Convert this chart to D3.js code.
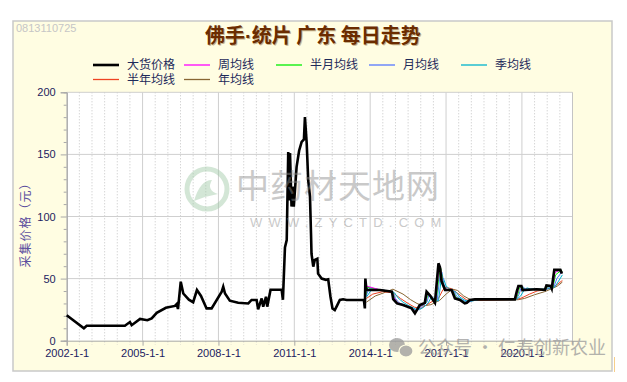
<!DOCTYPE html>
<html><head><meta charset="utf-8">
<script src="https://cdn.jsdelivr.net/npm/d3@7/dist/d3.min.js"></script>
<style>body{margin:0;background:#fff}svg{display:block}</style>
</head><body><svg id="c" width="627" height="382"></svg>
<script>
// ---------- data ----------
const titleParts = ["佛手", "·", "统片 广东 每日走势"];
const yTitle = "采集价格（元）";
const xTickYears = [2002, 2005, 2008, 2011, 2014, 2017, 2020];
const xTickLabels = ["2002-1-1", "2005-1-1", "2008-1-1", "2011-1-1", "2014-1-1", "2017-1-1", "2020-1-1"];
const yTicks = [0, 50, 100, 150, 200];
const legendNames = ["大货价格", "周均线", "半月均线", "月均线", "季均线", "半年均线", "年均线"];
const legendColors = ["#000000", "#ff00ff", "#00ee00", "#5577ff", "#00b4cc", "#ee4422", "#886633"];

// [decimal year, price]
const price = [[2002.00,20.5],[2002.68,10],[2002.79,12],[2004.30,12],[2004.50,15],[2004.57,12.5],[2004.90,17.5],
[2005.19,16.5],[2005.36,18],[2005.56,22.5],[2005.92,26.5],[2006.28,28],[2006.35,29.5],[2006.40,25.5],[2006.51,47.5],
[2006.61,38],[2006.83,33],[2007.00,31],[2007.15,40.8],[2007.31,36],[2007.53,26],[2007.73,26],[2008.13,39.5],[2008.19,43.5],
[2008.26,38],[2008.45,32.2],[2008.78,30.6],[2009.18,30],[2009.31,32.8],[2009.51,32.8],[2009.57,25.3],[2009.71,34],
[2009.77,27.4],[2009.88,35.4],[2009.93,27.4],[2010.06,41],[2010.50,41],[2010.55,33],[2010.63,75],[2010.70,81],
[2010.76,152],[2010.80,113],[2010.83,151],[2010.89,108],[2010.93,124],[2010.98,108],[2011.09,140],[2011.19,153],
[2011.29,160],[2011.38,162],[2011.42,180],[2011.49,159],[2011.55,129],[2011.62,116],[2011.66,86.5],[2011.68,70],
[2011.75,59.6],[2011.81,65],[2011.91,66],[2011.94,54],[2012.08,50],[2012.25,49],[2012.34,49.4],[2012.43,35.4],
[2012.51,26],[2012.60,24.7],[2012.70,28.7],[2012.80,32.8],[2012.93,33.3],[2013.07,32.8],[2013.75,32.8],[2013.79,26],
[2013.81,50],[2013.85,41],[2014.38,40.8],[2014.86,39.5],[2014.91,33.5],[2015.06,30],[2015.30,28.7],[2015.64,26],
[2015.77,22],[2015.96,28.7],[2016.16,30.5],[2016.23,39.5],[2016.36,36.5],[2016.56,30.5],[2016.70,62.3],[2016.76,59],
[2016.82,48],[2016.96,40.8],[2017.22,40.8],[2017.35,34],[2017.55,32.8],[2017.74,30],[2017.82,30.5],[2017.94,32.8],
[2018.14,33.3],[2019.72,33.3],[2019.80,40],[2019.86,44],[2019.98,44],[2020.02,40.8],[2020.58,41.4],[2020.91,41],
[2020.97,44.5],[2021.14,44],[2021.18,42],[2021.28,57],[2021.52,57],[2021.58,54]];

const weekMA = [[2013.82,38],[2013.86,44],[2014.38,41],[2014.86,39.6],[2014.93,35],[2015.08,30.5],[2015.32,28.8],
[2015.66,26.2],[2015.79,23],[2015.98,28],[2016.18,30.3],[2016.26,38],[2016.38,36.8],[2016.58,31],[2016.72,58],[2016.78,59],
[2016.85,47],[2016.98,41],[2017.24,40.8],[2017.37,34.5],[2017.57,32.9],[2017.76,30.3],[2017.84,30.4],[2017.96,32.6],
[2018.16,33.2],[2019.74,33.3],[2019.83,39],[2019.89,43.6],[2020.00,43.8],[2020.05,41],[2020.60,41.4],[2020.93,41.1],
[2020.99,44],[2021.16,44],[2021.20,42.3],[2021.31,55],[2021.54,57],[2021.60,54.5]];

const halfMonthMA = [[2013.83,37],[2013.90,43],[2014.40,41],[2014.88,39.5],[2014.96,34],[2015.10,30.2],[2015.34,28.6],
[2015.68,25.6],[2015.82,23.5],[2016.00,28],[2016.20,30.5],[2016.28,37.5],[2016.40,36.5],[2016.60,31.2],[2016.74,55],
[2016.80,58],[2016.88,46],[2017.00,41],[2017.26,40.6],[2017.39,35],[2017.59,33],[2017.78,30.5],[2017.86,30.6],
[2017.98,32.5],[2018.18,33.2],[2019.76,33.3],[2019.85,38],[2019.91,43],[2020.02,43.6],[2020.07,41.2],[2020.62,41.4],
[2020.95,41.2],[2021.01,43.5],[2021.18,43.8],[2021.22,42.5],[2021.33,53],[2021.56,56.8],[2021.60,55]];

const monthMA = [[2013.84,36],[2013.95,42],[2014.42,41],[2014.90,39.2],[2015.00,34],[2015.14,30.5],[2015.38,28.5],
[2015.72,25.5],[2015.86,24],[2016.04,27.5],[2016.24,30.8],[2016.32,36.5],[2016.44,35.5],[2016.64,31.5],[2016.76,52],
[2016.84,55],[2016.92,45],[2017.04,41],[2017.30,40.3],[2017.43,35.5],[2017.63,33],[2017.82,31],[2017.90,31],
[2018.02,32.3],[2018.22,33.2],[2019.78,33.3],[2019.88,37],[2019.96,42],[2020.06,43.3],[2020.12,41.5],[2020.66,41.4],
[2020.98,41.3],[2021.05,43],[2021.22,43.6],[2021.26,43],[2021.38,50],[2021.58,55.5]];

const quarterMA = [[2013.85,35],[2014.05,41],[2014.50,40.8],[2014.95,38.8],[2015.10,34.5],[2015.30,31],[2015.50,28.5],
[2015.80,25.5],[2015.95,25],[2016.12,27],[2016.30,30.5],[2016.40,34.5],[2016.55,34],[2016.70,32],[2016.80,48],
[2016.90,50],[2017.00,44],[2017.15,41.5],[2017.40,39],[2017.55,35],[2017.75,32.5],[2017.95,31.5],[2018.15,32.5],
[2018.35,33.2],[2019.80,33.3],[2019.95,36],[2020.08,40.5],[2020.20,42.5],[2020.35,41.6],[2020.75,41.4],[2021.05,41.8],
[2021.15,42.5],[2021.30,43.2],[2021.45,48],[2021.60,53]];

const halfYearMA = [[2013.85,34],[2014.10,37.5],[2014.50,39.5],[2014.90,38.5],[2015.20,34],[2015.50,30],[2015.75,27],
[2016.00,26],[2016.20,28.5],[2016.45,31.5],[2016.70,34],[2016.85,40],[2016.95,43],[2017.20,42],[2017.40,39],
[2017.60,36],[2017.80,33],[2017.95,32],[2018.20,32.6],[2019.80,33.2],[2020.00,34.5],[2020.30,37.5],[2020.60,40],
[2020.90,41],[2021.10,42.2],[2021.30,43.8],[2021.60,48.5]];

const yearMA = [[2013.85,31],[2014.20,36],[2014.60,39],[2014.90,41.5],[2015.30,37.5],[2015.60,33],[2015.85,30],
[2016.10,28],[2016.40,29],[2016.75,32.5],[2017.00,37.5],[2017.25,41.5],[2017.45,40.5],[2017.70,36],[2017.95,33.2],
[2018.20,32.6],[2019.85,33],[2020.10,34],[2020.50,37],[2020.90,39.5],[2021.20,42],[2021.40,44],[2021.60,47.2]];

// ---------- layout ----------
const svg = d3.select("#c");
const L = 66.7, R = 572.5, T = 92.3, B = 340.7;
const x = d3.scaleLinear().domain([2002, 2022]).range([L, R]);
const y = d3.scaleLinear().domain([0, 200]).range([B, T]);
const font = "'Liberation Sans', Arial, sans-serif";
const cjk = "'Noto Sans CJK SC', sans-serif";
const labelColor = "#1c2160";

// frame
svg.append("rect").attr("x", 13).attr("y", 21).attr("width", 599).attr("height", 350)
  .attr("fill", "#fffde2").attr("stroke", "#c9c9c9").attr("stroke-width", 1.5);
svg.append("line").attr("x1", 614.5).attr("x2", 614.5).attr("y1", 357).attr("y2", 372)
  .attr("stroke", "#f6cf8a").attr("stroke-width", 1);

// plot background
svg.append("rect").attr("x", L).attr("y", T).attr("width", R - L).attr("height", B - T).attr("fill", "#ffffff");

// grid
const halfYears = d3.range(2002.5, 2022, 0.5).filter(v => !xTickYears.includes(v));
svg.append("g").selectAll("line").data(halfYears).join("line")
  .attr("x1", d => x(d)).attr("x2", d => x(d)).attr("y1", T).attr("y2", B + 4)
  .attr("stroke", "#c4c4c4").attr("stroke-width", 1).attr("stroke-dasharray", "1,2");
svg.append("g").selectAll("line").data(xTickYears.slice(1)).join("line")
  .attr("x1", d => x(d)).attr("x2", d => x(d)).attr("y1", T).attr("y2", B)
  .attr("stroke", "#cfcfcf").attr("stroke-width", 1);
svg.append("g").selectAll("line").data(yTicks.slice(1)).join("line")
  .attr("x1", L).attr("x2", R).attr("y1", d => y(d)).attr("y2", d => y(d))
  .attr("stroke", "#cfcfcf").attr("stroke-width", 1);
svg.append("line").attr("x1", R).attr("x2", R).attr("y1", T).attr("y2", B).attr("stroke", "#c4c4c4");

// axes
const yAxis = svg.append("g").attr("transform", `translate(${L},0)`)
  .call(d3.axisLeft(y).tickValues(yTicks).tickSize(6).tickPadding(5).tickFormat(d3.format("d")));
const yMinor = svg.append("g").attr("transform", `translate(${L},0)`)
  .call(d3.axisLeft(y).tickValues(d3.range(10, 200, 10).filter(v => v % 50)).tickSize(3).tickFormat(""));
const xAxis = svg.append("g").attr("transform", `translate(0,${B})`)
  .call(d3.axisBottom(x).tickValues(xTickYears).tickSize(5).tickPadding(4)
    .tickFormat((d, i) => xTickLabels[i]));
[yAxis, yMinor, xAxis].forEach(g => {
  g.selectAll(".domain").attr("stroke", "#a8a8a8");
  g.selectAll(".tick line").attr("stroke", "#a8a8a8");
  g.selectAll("text").attr("fill", labelColor).attr("font-family", font).attr("font-size", 11);
});

// y title
svg.append("text").attr("transform", "translate(30,222) rotate(-90)").attr("text-anchor", "middle")
  .attr("font-family", cjk).attr("font-size", 12).attr("letter-spacing", 1).attr("fill", "#5b4e9e").text(yTitle);

// series
const line = d3.line().x(d => x(d[0])).y(d => y(d[1]));
const maSeries = [yearMA, halfYearMA, quarterMA, monthMA, halfMonthMA, weekMA];
const maColors = [legendColors[6], legendColors[5], legendColors[4], legendColors[3], legendColors[2], legendColors[1]];
maSeries.forEach((s, i) => {
  svg.append("path").datum(s).attr("d", line).attr("fill", "none")
    .attr("stroke", maColors[i]).attr("stroke-width", 1);
});
svg.append("path").datum(price).attr("d", line).attr("fill", "none")
  .attr("stroke", "#000").attr("stroke-width", 2.6).attr("stroke-linejoin", "miter");

// title (shadow + main)
function drawTitle(dx, dy, fill) {
  const t = svg.append("text").attr("x", 313 + dx).attr("y", 43 + dy).attr("text-anchor", "middle")
    .attr("font-family", cjk).attr("font-weight", "bold").attr("font-size", 20).attr("fill", fill);
  t.append("tspan").text(titleParts[0]);
  t.append("tspan").attr("font-family", font).text(titleParts[1]);
  t.append("tspan").text(titleParts[2]);
}
drawTitle(1, 1, "#c8b48c");
drawTitle(0, 0, "#6b2c00");

// stamp
svg.append("text").attr("x", 16).attr("y", 32).attr("font-family", font).attr("font-size", 11)
  .attr("fill", "#c6c6c6").text("0813110725");

// legend
const legX = [93, 184, 276, 369, 461, 93, 184];
const legY = [65, 65, 65, 65, 65, 79.5, 79.5];
const leg = svg.append("g");
legendNames.forEach((n, i) => {
  leg.append("line").attr("x1", legX[i]).attr("x2", legX[i] + 26).attr("y1", legY[i]).attr("y2", legY[i])
    .attr("stroke", legendColors[i]).attr("stroke-width", i === 0 ? 2.6 : 1.3);
  leg.append("text").attr("x", legX[i] + 34).attr("y", legY[i] + 4.2).attr("font-family", cjk)
    .attr("font-size", 12).attr("fill", "#1e2a5a").text(n);
});

// centre watermark
const wm = svg.append("g").attr("opacity", 0.45);
wm.append("circle").attr("cx", 207).attr("cy", 189).attr("r", 20).attr("fill", "none")
  .attr("stroke", "#9fc9a6").attr("stroke-width", 5);
wm.append("path").attr("d", "M194,201 Q200,180 212,180 Q206,190 218,194 Q206,196 194,201Z").attr("fill", "#9fc9a6");
wm.append("text").attr("x", 236).attr("y", 198).attr("font-family", cjk).attr("font-size", 33)
  .attr("fill", "#8a8a8a").attr("letter-spacing", 1).text("中药材天地网");
wm.append("text").attr("x", 250).attr("y", 227).attr("font-family", font).attr("font-size", 13)
  .attr("fill", "#8a8a8a").attr("letter-spacing", 6.2).text("WWW.ZYCTD.COM");

// wechat watermark
const wc = svg.append("g").attr("opacity", 0.75);
wc.append("ellipse").attr("cx", 397).attr("cy", 345).attr("rx", 8).attr("ry", 7).attr("fill", "#9a9a9a");
wc.append("ellipse").attr("cx", 406).attr("cy", 351).attr("rx", 7).attr("ry", 6).attr("fill", "#9a9a9a")
  .attr("stroke", "#fffde2").attr("stroke-width", 1.2);
wc.append("text").attr("x", 418).attr("y", 354).attr("font-family", cjk).attr("font-size", 18)
  .attr("fill", "#9a9a9a").text("公众号 · 仁寿创新农业");
</script></body></html>
